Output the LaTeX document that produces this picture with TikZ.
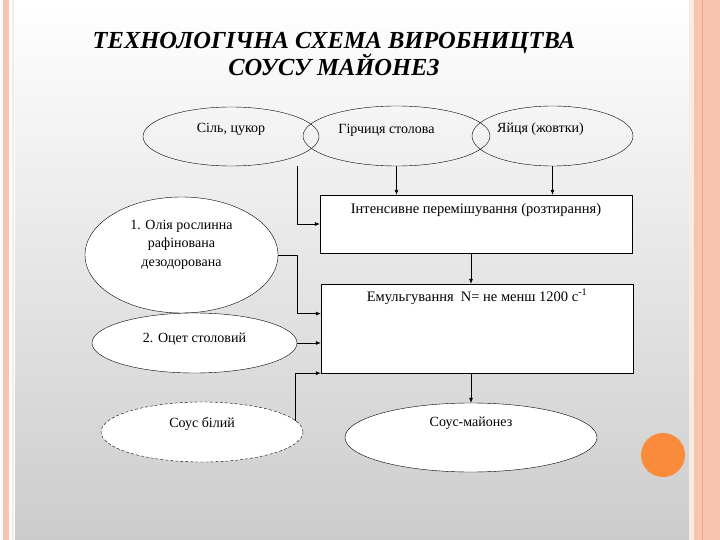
\documentclass[tikz,border=0pt]{standalone}
\usepackage{fontspec}
\setmainfont{Liberation Serif}
\usetikzlibrary{shapes.geometric,arrows.meta,calc}
\definecolor{salmon}{HTML}{F8C4AF}
\definecolor{rim}{HTML}{F2A27F}
\definecolor{cream}{HTML}{FBEBDD}
\definecolor{spot}{HTML}{FA8B3A}
\tikzset{
  ell/.style={ellipse, draw, inner sep=0pt, text height=9.5pt,
    font=\fontsize{14}{18.5}\selectfont},
  stage/.style={rectangle, draw, fill=white, inner sep=0pt, text height=9.5pt,
    minimum width=312, font=\fontsize{14.5}{18.5}\selectfont},
  arr/.style={-{Latex[length=5pt,width=4pt]}, line width=.6pt},
}
\begin{document}
\begin{tikzpicture}[x=1pt,y=-1pt]
        \useasboundingbox (0,0) rectangle (720,540);
        % slide background
        \fill[white] (0,0) rectangle (720,540);
        \shade[top color=white, middle color=black!5, bottom color=black!20] (15,0) rectangle (689,540);
        \fill[salmon] (3,0) rectangle (9,540);
        \fill[cream] (12,0) rectangle (14,540);
        \fill[cream] (689,0) rectangle (694,540);
        \fill[salmon] (694,0) rectangle (720,540);
        \draw[rim, line width=1pt] (702,0) -- (702,540);
        \draw[rim!60, line width=.6pt] (697,0) -- (697,540);
        \fill[spot] (663,455) circle (22);
        % title
        \node[font=\fontsize{24.5}{27.3}\selectfont\bfseries\itshape, align=center, anchor=base] (title) at (334,76)
            {ТЕХНОЛОГІЧНА СХЕМА ВИРОБНИЦТВА\\СОУСУ МАЙОНЕЗ};
        % ingredients and stages
        \node[ell, minimum width=176, minimum height=59, text depth=16.5pt] (sil) at (231,136.5) {Сіль, цукор};
        \node[ell, minimum width=187, minimum height=60, text depth=13.5pt] (mus) at (396.5,136) {Гірчиця столова\rule{20pt}{0pt}};
        \node[ell, minimum width=161, minimum height=60, text depth=16.5pt] (egg) at (552.5,136) {Яйця (жовтки)\rule{24pt}{0pt}};
        \node[stage, minimum height=58, text depth=29.5pt] (mix) at (476,224) {Інтенсивне перемішування (розтирання)};
        \node[stage, minimum height=89, text depth=64.5pt] (emu) at (477,328.5) {Емульгування\ \ N= не менш 1200 с\textsuperscript{-1}};
        \node[ell, fill=white, align=center, minimum width=193, minimum height=116, text height=50pt, text depth=28pt] (oil) at (181.5,255)
            {1. Олія рослинна\\рафінована\\дезодорована};
        \node[ell, fill=white, minimum width=205, minimum height=60, text depth=11.5pt] (vin) at (194.5,343) {2. Оцет столовий};
        \node[ell, fill=white, densely dashed, minimum width=202, minimum height=60, text depth=19.5pt] (wht) at (202,432) {Соус білий};
        \node[ell, fill=white, minimum width=252, minimum height=69, text depth=32.5pt] (mayo) at (471,437.5) {Соус-майонез};
        % connectors
        \coordinate (c1) at ([xshift=66pt]sil.south);
        \coordinate (e1) at ($(emu.north west)!1/3!(emu.south west)$);
        \draw[arr] (c1) |- (mix.west);
        \draw[arr] (mus.south) -- (mus.south |- mix.north);
        \draw[arr] (egg.south) -- (egg.south |- mix.north);
        \draw[arr] (mix.south -| mayo.north) -- (emu.north -| mayo.north);
        \draw[arr] (emu.south -| mayo.north) -- (mayo.north);
        \draw[arr] (oil.east) -| ([xshift=-24pt]e1) -- (e1);
        \draw[arr] (vin.east) -- (vin.east -| emu.west);
        \draw[arr] (wht.7) |- (emu.south west);
\end{tikzpicture}
\end{document}
